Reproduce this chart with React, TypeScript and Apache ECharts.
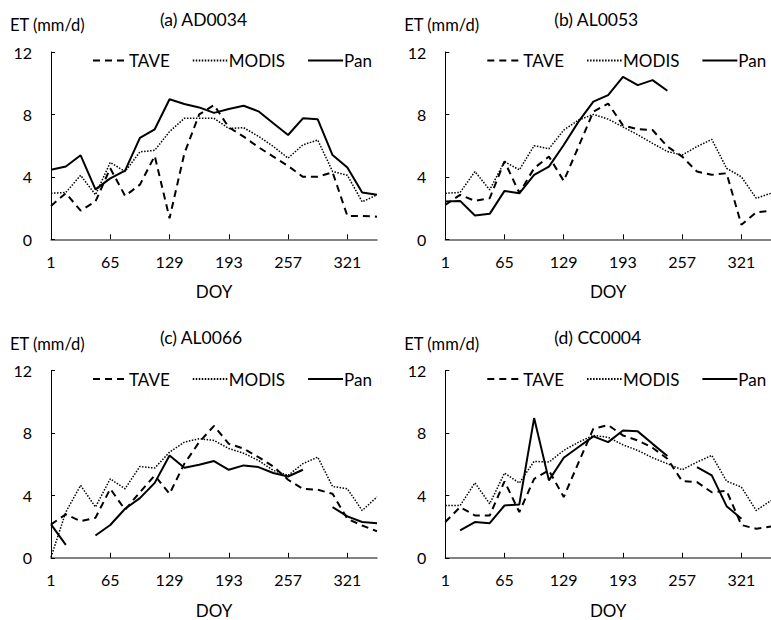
import React, { useEffect, useRef } from "react";
import * as echarts from "echarts";

const doy = ["1","17","33","49","65","81","97","113","129","145","161","177","193","209","225","241","257","273","289","305","321","337","353"];
const panelTitles = ["(a) AD0034", "(b) AL0053", "(c) AL0066", "(d) CC0004"];
const seriesNames = ["TAVE", "MODIS", "Pan"];
const yTicks = [0, 4, 8, 12];

const taveA = [2.14, 2.95, 1.84, 2.42, 4.55, 2.78, 3.5, 5.34, 1.35, 5.5, 8.0, 8.6, 7.17, 6.58, 5.9, 5.3, 4.7, 4.0, 4.0, 4.3, 1.5, 1.5, 1.45];
const modisA = [2.95, 3.0, 4.1, 2.85, 4.93, 4.34, 5.6, 5.7, 6.9, 7.75, 7.75, 7.75, 7.1, 7.15, 6.6, 5.95, 5.2, 6.05, 6.36, 4.35, 4.1, 2.4, 2.85];
const panA = [4.45, 4.66, 5.38, 3.2, 3.9, 4.4, 6.5, 7.05, 8.97, 8.67, 8.45, 8.1, 8.35, 8.56, 8.2, 7.43, 6.68, 7.75, 7.69, 5.4, 4.6, 3.0, 2.85];

const taveB = [2.2, 2.85, 2.46, 2.63, 5.0, 2.97, 4.55, 5.3, 3.74, 5.94, 8.18, 8.7, 7.3, 7.05, 7.0, 5.94, 5.3, 4.34, 4.13, 4.23, 0.93, 1.72, 1.84];
const modisB = [2.95, 3.0, 4.34, 3.17, 4.98, 4.45, 6.0, 5.8, 7.0, 7.64, 8.0, 7.7, 7.2, 6.7, 6.15, 5.62, 5.4, 5.94, 6.4, 4.55, 4.0, 2.63, 2.95];
const panB = [2.42, 2.46, 1.52, 1.63, 3.1, 2.95, 4.13, 4.66, 6.04, 7.54, 8.82, 9.24, 10.4, 9.88, 10.2, 9.52, null, null, null, null, null, null, null];

const taveC = [2.14, 2.78, 2.35, 2.56, 4.42, 3.08, 4.2, 5.28, 4.1, 6.03, 7.41, 8.45, 7.3, 7.0, 6.45, 5.85, 5.0, 4.42, 4.36, 4.1, 2.5, 2.07, 1.7];
const modisC = [0.04, 2.93, 4.64, 3.25, 5.06, 4.42, 5.85, 5.75, 6.77, 7.41, 7.63, 7.52, 7.0, 6.7, 6.24, 5.6, 5.28, 6.03, 6.45, 4.57, 4.42, 3.03, 3.9];
const panC = [2.14, 0.83, null, 1.43, 2.1, 3.14, 3.82, 4.8, 6.56, 5.77, 5.96, 6.2, 5.64, 5.92, 5.81, 5.43, 5.21, 5.64, null, 3.25, 2.65, 2.29, 2.22];

const taveD = [2.29, 3.25, 2.71, 2.71, 4.9, 2.93, 5.06, 5.6, 3.89, 6.1, 8.27, 8.5, 7.84, 7.52, 7.05, 6.35, 4.91, 4.85, 4.2, 4.3, 2.1, 1.86, 2.0];
const modisD = [3.35, 3.35, 4.8, 3.46, 5.43, 4.79, 6.18, 6.13, 6.88, 7.41, 7.84, 7.72, 7.24, 6.88, 6.41, 6.03, 5.64, 6.13, 6.56, 4.91, 4.53, 3.03, 3.67];
const panD = [null, 1.75, 2.29, 2.22, 3.35, 3.42, 8.95, 4.96, 6.41, 7.1, 7.78, 7.41, 8.16, 8.1, 7.3, 6.52, null, 5.81, 5.28, 3.31, 2.5, null, null];

const panels = [
  [taveA, modisA, panA],
  [taveB, modisB, panB],
  [taveC, modisC, panC],
  [taveD, modisD, panD],
];

const FONT = "Lato";

export default function App() {
  const ref = useRef<HTMLDivElement>(null);
  useEffect(() => {
    if (!ref.current) return;
    const chart = echarts.init(ref.current, null, { renderer: "svg" });
    const lefts = [51, 445.3, 51, 445.3];
    const tops = [52, 52, 370.5, 370.5];
    const W = 326;
    const H = 187.3;
    const lineStyles = [
      { type: [7, 5], width: 2 },
      { type: [1.5, 1.5], width: 1.5 },
      { type: "solid", width: 2 },
    ];
    const grid: any[] = [];
    const xAxis: any[] = [];
    const yAxis: any[] = [];
    const series: any[] = [];
    const legend: any[] = [];
    const graphic: any[] = [];
    panels.forEach((p, k) => {
      grid.push({ left: lefts[k], top: tops[k], width: W, height: H, containLabel: false });
      xAxis.push({
        type: "category",
        gridIndex: k,
        data: doy,
        boundaryGap: false,
        name: "DOY",
        nameLocation: "middle",
        nameGap: 44,
        nameTextStyle: { fontFamily: FONT, fontSize: 17, color: "#000" },
        axisLine: { lineStyle: { color: "#595959", width: 1.5 } },
        axisTick: { interval: 3, inside: true, length: 5, lineStyle: { color: "#000" } },
        axisLabel: { interval: 3, fontFamily: FONT, fontSize: 16, color: "#000", margin: 14 },
        splitLine: { show: false },
      });
      yAxis.push({
        type: "value",
        gridIndex: k,
        min: yTicks[0],
        max: yTicks[yTicks.length - 1],
        interval: 4,
        axisLine: { show: true, lineStyle: { color: "#000", width: 1 } },
        axisTick: { show: true, inside: true, length: 4, lineStyle: { color: "#000" } },
        axisLabel: { fontFamily: FONT, fontSize: 16, color: "#000", margin: 19 },
        splitLine: { show: false },
      });
      p.forEach((d, s) => {
        series.push({
          type: "line",
          name: seriesNames[s],
          xAxisIndex: k,
          yAxisIndex: k,
          data: d,
          symbol: "none",
          showSymbol: false,
          connectNulls: false,
          lineStyle: { color: "#000", ...lineStyles[s] },
          itemStyle: { color: "#000" },
        });
      });
      legend.push({
        data: seriesNames,
        left: lefts[k] + 41,
        top: tops[k],
        width: 340,
        padding: 0,
        itemWidth: 35,
        itemHeight: 10,
        itemGap: 22,
        itemStyle: { opacity: 0, borderWidth: 0 },
        textStyle: { fontFamily: FONT, fontSize: 17, color: "#000", padding: [0, 0, 0, -4] },
        selectedMode: false,
      });
      graphic.push({
        type: "text",
        x: lefts[k] - 41,
        y: tops[k] - 27,
        style: { text: "ET (mm/d)", font: `16.5px ${FONT}`, fill: "#000", align: "left", verticalAlign: "middle" },
      });
      graphic.push({
        type: "text",
        x: lefts[k] + 109,
        y: tops[k] - 33,
        style: { text: panelTitles[k], font: `17.5px ${FONT}`, fill: "#000", align: "left", verticalAlign: "middle" },
      });
    });
    chart.setOption({
      animation: false,
      backgroundColor: "#fff",
      grid,
      xAxis,
      yAxis,
      series,
      legend,
      graphic,
    });
    return () => chart.dispose();
  }, []);
  return (
    <div
      ref={ref}
      style={{ position: "fixed", left: 0, top: 0, width: 771, height: 620 }}
    />
  );
}
